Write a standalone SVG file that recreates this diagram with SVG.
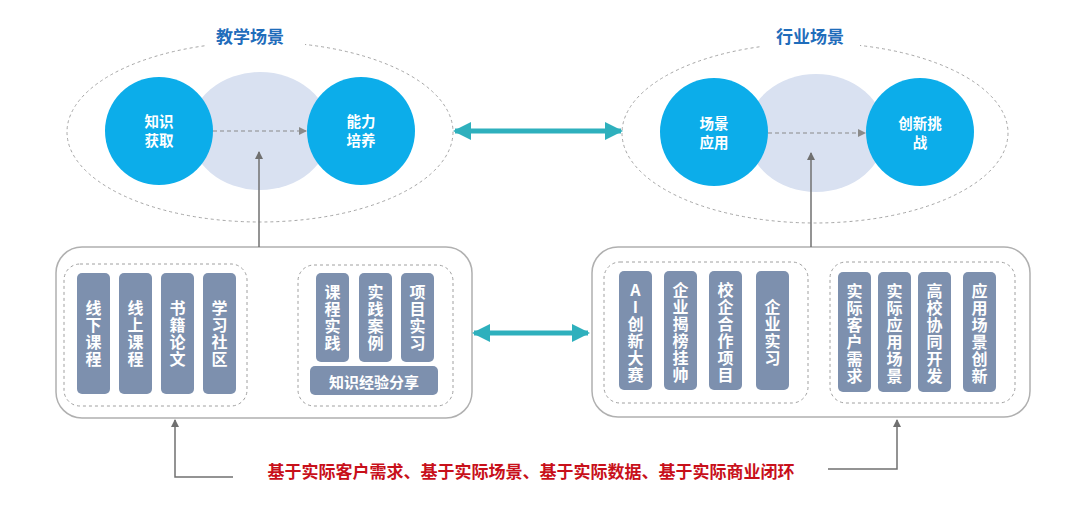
<svg xmlns="http://www.w3.org/2000/svg" width="1080" height="509" viewBox="0 0 1080 509">
<defs>
<style>
.title{font-family:"Noto Sans CJK SC","Noto Sans",sans-serif;font-weight:bold;font-size:17px;fill:#1f6dbb;text-anchor:middle}
.ct{font-family:"Noto Sans CJK SC","Noto Sans",sans-serif;font-weight:bold;font-size:14.5px;fill:#ffffff;text-anchor:middle}
.pt{font-family:"Noto Sans CJK SC","Noto Sans",sans-serif;font-weight:bold;font-size:16px;fill:#ffffff;text-anchor:middle;writing-mode:vertical-rl;text-orientation:upright;letter-spacing:1px}
.ht{font-family:"Noto Sans CJK SC","Noto Sans",sans-serif;font-weight:bold;font-size:15px;fill:#ffffff;text-anchor:middle;dominant-baseline:central}
.outer{fill:none;stroke:#a6a6a6;stroke-width:1;stroke-dasharray:3 3}
.inner{fill:#d9e1f1}
.circ{fill:#0cadea}
.box{fill:#ffffff;stroke:#b0b0b0;stroke-width:1.5}
.dbox{fill:none;stroke:#a0a0a0;stroke-width:1;stroke-dasharray:3 3}
.pill{fill:#7d90ae}
.gl{fill:none;stroke:#707070;stroke-width:1.5}
.dash{fill:none;stroke:#8a8a8a;stroke-width:1.2;stroke-dasharray:4 3}
.teal{fill:none;stroke:#2eb0bd;stroke-width:5}
.red{font-family:"Noto Sans CJK SC","Noto Sans",sans-serif;font-weight:bold;font-size:17px;fill:#c8101a;text-anchor:middle}
</style>
<marker id="ah" markerWidth="8" markerHeight="8" refX="7" refY="4" orient="auto" markerUnits="userSpaceOnUse"><path d="M0,0 L8,4 L0,8 Z" fill="#707070"/></marker>
<marker id="ahd" markerWidth="8" markerHeight="8" refX="7" refY="4" orient="auto" markerUnits="userSpaceOnUse"><path d="M0,0 L8,4 L0,8 Z" fill="#8a8a8a"/></marker>
<marker id="ta" markerWidth="18" markerHeight="18" refX="16" refY="9" orient="auto-start-reverse" markerUnits="userSpaceOnUse"><path d="M0,0 L18,9 L0,18 Z" fill="#2eb0bd"/></marker>
</defs>

<g id="teach-scene">
<ellipse class="outer" cx="260" cy="132" rx="193" ry="90"/>
<rect x="205" y="24" width="100" height="26" fill="#ffffff"/>
<text class="title" x="250" y="43">教学场景</text>
<ellipse class="inner" cx="260" cy="131" rx="70" ry="59"/>
</g>
<g id="node-knowledge">
<circle class="circ" cx="159" cy="131" r="54"/>
<text class="ct" x="159" y="127">知识<tspan x="159" dy="19">获取</tspan></text>
</g>
<g id="node-ability">
<circle class="circ" cx="361" cy="131" r="54"/>
<text class="ct" x="361" y="127">能力<tspan x="361" dy="19">培养</tspan></text>
</g>

<g id="industry-scene">
<ellipse class="outer" cx="815" cy="133" rx="193" ry="90"/>
<rect x="760" y="24" width="100" height="26" fill="#ffffff"/>
<text class="title" x="810" y="43">行业场景</text>
<ellipse class="inner" cx="816" cy="133" rx="69" ry="59"/>
</g>
<g id="node-apply">
<circle class="circ" cx="714" cy="132" r="54"/>
<text class="ct" x="714" y="129">场景<tspan x="714" dy="19">应用</tspan></text>
</g>
<g id="node-innovate">
<circle class="circ" cx="920" cy="132" r="54"/>
<text class="ct" x="920" y="129">创新挑<tspan x="920" dy="19">战</tspan></text>
</g>

<g id="teach-resources">
<rect class="box" x="56" y="247" width="416" height="171" rx="26"/>
<rect class="dbox" x="64" y="264" width="183" height="142" rx="16"/>
<rect class="dbox" x="298" y="265" width="155" height="141" rx="16"/>
<rect class="pill" x="77" y="273" width="33" height="121" rx="5"/>
<text class="pt" x="93.5" y="334">线下课程</text>
<rect class="pill" x="119" y="273" width="33" height="121" rx="5"/>
<text class="pt" x="135.5" y="334">线上课程</text>
<rect class="pill" x="161" y="273" width="33" height="121" rx="5"/>
<text class="pt" x="177.5" y="334">书籍论文</text>
<rect class="pill" x="203" y="273" width="33" height="121" rx="5"/>
<text class="pt" x="219.5" y="334">学习社区</text>
<rect class="pill" x="316" y="273" width="33" height="89" rx="5"/>
<text class="pt" x="332.5" y="318">课程实践</text>
<rect class="pill" x="359" y="273" width="33" height="89" rx="5"/>
<text class="pt" x="375.5" y="318">实践案例</text>
<rect class="pill" x="401" y="273" width="33" height="89" rx="5"/>
<text class="pt" x="417.5" y="318">项目实习</text>
<rect class="pill" x="310" y="366" width="128" height="29" rx="5"/>
<text class="ht" x="374" y="381">知识经验分享</text>
</g>

<g id="industry-resources">
<rect class="box" x="592" y="247" width="438" height="170" rx="26"/>
<rect class="dbox" x="604" y="262" width="204" height="141" rx="16"/>
<rect class="dbox" x="830" y="262" width="185" height="141" rx="16"/>
<rect class="pill" x="619" y="271" width="33" height="119" rx="5"/>
<text class="pt" x="635.5" y="333">AI创新大赛</text>
<rect class="pill" x="664" y="271" width="33" height="119" rx="5"/>
<text class="pt" x="680.5" y="333">企业揭榜挂帅</text>
<rect class="pill" x="709" y="271" width="33" height="119" rx="5"/>
<text class="pt" x="725.5" y="333">校企合作项目</text>
<rect class="pill" x="756" y="271" width="33" height="119" rx="5"/>
<text class="pt" x="772.5" y="333">企业实习</text>
<rect class="pill" x="838" y="272" width="33" height="120" rx="5"/>
<text class="pt" x="854.5" y="334">实际客户需求</text>
<rect class="pill" x="878" y="272" width="33" height="120" rx="5"/>
<text class="pt" x="894.5" y="334">实际应用场景</text>
<rect class="pill" x="918" y="272" width="33" height="120" rx="5"/>
<text class="pt" x="934.5" y="334">高校协同开发</text>
<rect class="pill" x="963" y="272" width="33" height="120" rx="5"/>
<text class="pt" x="979.5" y="334">应用场景创新</text>
</g>

<g id="basis-label">
<text class="red" x="531" y="478">基于实际客户需求、基于实际场景、基于实际数据、基于实际商业闭环</text>
</g>

<g id="connectors">
<line class="dash" x1="213" y1="131" x2="306" y2="131" marker-end="url(#ahd)"/>
<line class="dash" x1="768" y1="133" x2="865" y2="133" marker-end="url(#ahd)"/>
<line class="gl" x1="259" y1="247" x2="259" y2="152" marker-end="url(#ah)"/>
<line class="gl" x1="811" y1="247" x2="811" y2="153" marker-end="url(#ah)"/>
<line class="teal" x1="455" y1="131" x2="621" y2="131" marker-start="url(#ta)" marker-end="url(#ta)"/>
<line class="teal" x1="474" y1="333" x2="588" y2="333" marker-start="url(#ta)" marker-end="url(#ta)"/>
<polyline class="gl" points="233,477 175,477 175,420" marker-end="url(#ah)"/>
<polyline class="gl" points="828,469 897,469 897,420" marker-end="url(#ah)"/>
</g>
</svg>
